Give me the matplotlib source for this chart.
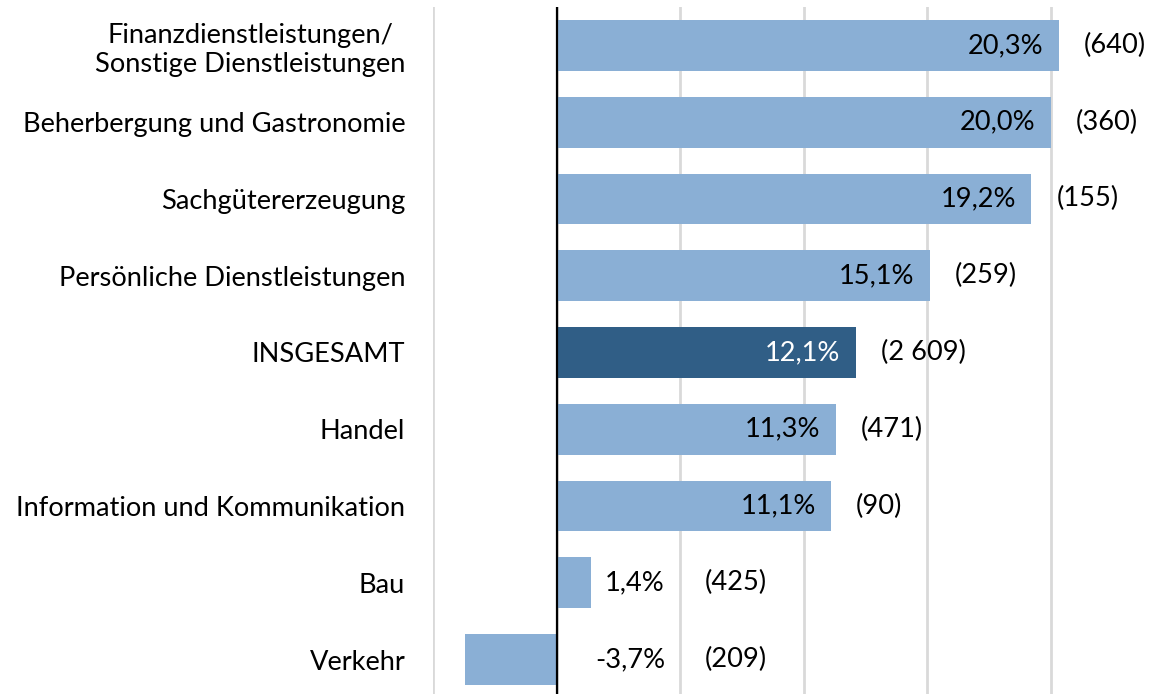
import matplotlib.pyplot as plt
import numpy as np

plt.rcParams['font.family'] = ['Lato', 'DejaVu Sans']

# data, top to bottom
categories = ["Finanzdienstleistungen/\nSonstige Dienstleistungen",
              "Beherbergung und Gastronomie",
              "Sachgütererzeugung",
              "Persönliche Dienstleistungen",
              "INSGESAMT",
              "Handel",
              "Information und Kommunikation",
              "Bau",
              "Verkehr"]
values = [20.3, 20.0, 19.2, 15.1, 12.1, 11.3, 11.1, 1.4, -3.7]
counts = ["640", "360", "155", "259", "2 609", "471", "90", "425", "209"]
highlight = "INSGESAMT"

LIGHT = "#8AAFD5"
DARK = "#305E86"
FS = 19.6

fig = plt.figure(figsize=(11.5, 6.94), dpi=100)
ax = fig.add_axes([433 / 1150, -4 / 694, 717 / 1150, 691 / 694])

y = np.arange(len(categories))
colors = [DARK if c == highlight else LIGHT for c in categories]
ax.barh(y, values, height=0.66, color=colors, zorder=2)

ax.set_xlim(-5, 24)
ax.set_ylim(len(categories) - 0.5, -0.5)
ax.set_xticks([-5, 0, 5, 10, 15, 20])
ax.xaxis.grid(True, color="#D9D9D9", linewidth=2, zorder=0)
ax.tick_params(axis="x", length=0, labelbottom=False)
ax.axvline(0, color="black", linewidth=1.6, zorder=3)

ax.set_yticks(y)
ax.set_yticklabels(categories, fontsize=FS, multialignment="center")
ax.tick_params(axis="y", length=0, pad=20)
for s in ax.spines.values():
    s.set_visible(False)

for i, (v, n, c) in enumerate(zip(values, counts, categories)):
    txt = f"{v:.1f}%".replace(".", ",")
    col = "white" if c == highlight else "black"
    # small bars: labels sit to the right of the 5% gridline
    anchor = v if v > 5 else 5
    ax.annotate(txt, (anchor, i), xytext=(-11, 0), textcoords="offset points",
                ha="right", va="center", fontsize=FS, color=col, zorder=4)
    ax.annotate(f"({n})", (anchor, i), xytext=(18, 0), textcoords="offset points",
                ha="left", va="center", fontsize=FS, color="black", zorder=4)

fig.savefig("out.png", dpi=100)
